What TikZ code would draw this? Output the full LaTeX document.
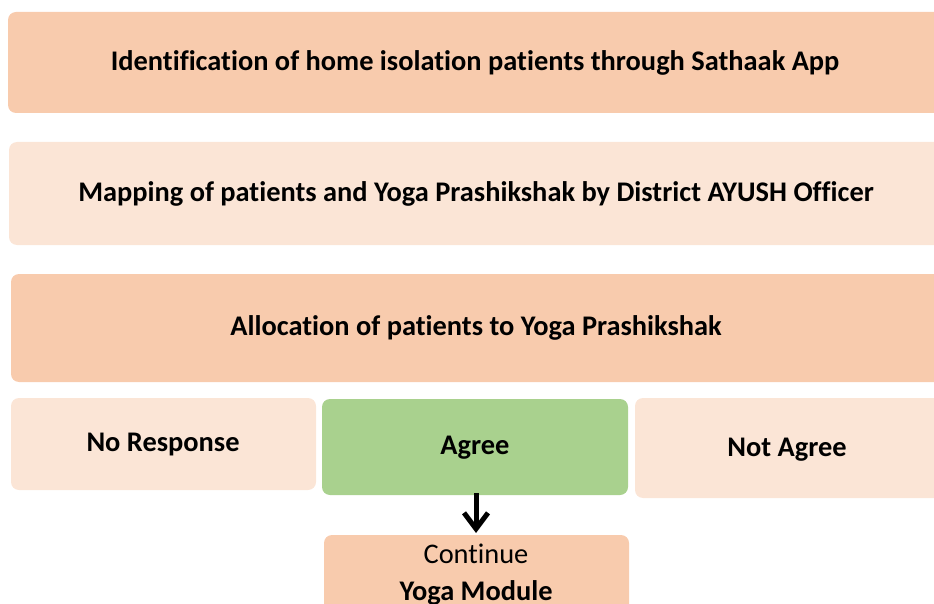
\documentclass[tikz,border=0pt]{standalone}
\usepackage{fontspec}
\setmainfont{Carlito}[Ligatures={NoCommon}]
\usetikzlibrary{arrows.meta}
\definecolor{darkpeach}{HTML}{F8CBAD}
\definecolor{lightpeach}{HTML}{FBE5D6}
\definecolor{agreegreen}{HTML}{A9D18E}
\begin{document}
\begin{tikzpicture}[x=1pt,y=-1pt,
  box/.style={rounded corners=8pt, draw=none},
  lbl/.style={font=\bfseries\fontsize{28.4}{34}\selectfont, text=black}]
\useasboundingbox (0,0) rectangle (934,604);
\clip (0,0) rectangle (934,604);
% boxes
\fill[box, darkpeach] (8,12) rectangle (950,113);
\node[lbl] (ident) at (475,63) {Identification of home isolation patients through Sathaak App};
\fill[box, lightpeach] (9,142) rectangle (950,245);
\node[lbl] (map) at (476,194) {Mapping of patients and Yoga Prashikshak by District AYUSH Officer};
\fill[box, darkpeach] (11,274) rectangle (950,382);
\node[lbl] (alloc) at (476,328) {Allocation of patients to Yoga Prashikshak};
\fill[box, lightpeach] (11,398) rectangle (316,490);
\node[lbl] (nores) at (163,445) {No Response};
\fill[box, agreegreen] (322,399) rectangle (628,495);
\node[lbl] (agree) at (475,448) {Agree};
\fill[box, lightpeach] (635,398) rectangle (950,498);
\node[lbl] (notagree) at (787,450) {Not Agree};
\fill[box, darkpeach] (324,535) rectangle (629,640);
\node[font=\fontsize{28.4}{34}\selectfont, text=black] (cont) at (476,554) {Continue};
\node[lbl] (yoga) at (476,593) {Yoga Module};
\coordinate (a1) at (476,493);
\coordinate (a2) at (476,533);
\draw[line width=5pt, -{Straight Barb[length=16pt,width=24pt,line width=5pt]}] (a1) -- (a2);
\end{tikzpicture}
\end{document}
